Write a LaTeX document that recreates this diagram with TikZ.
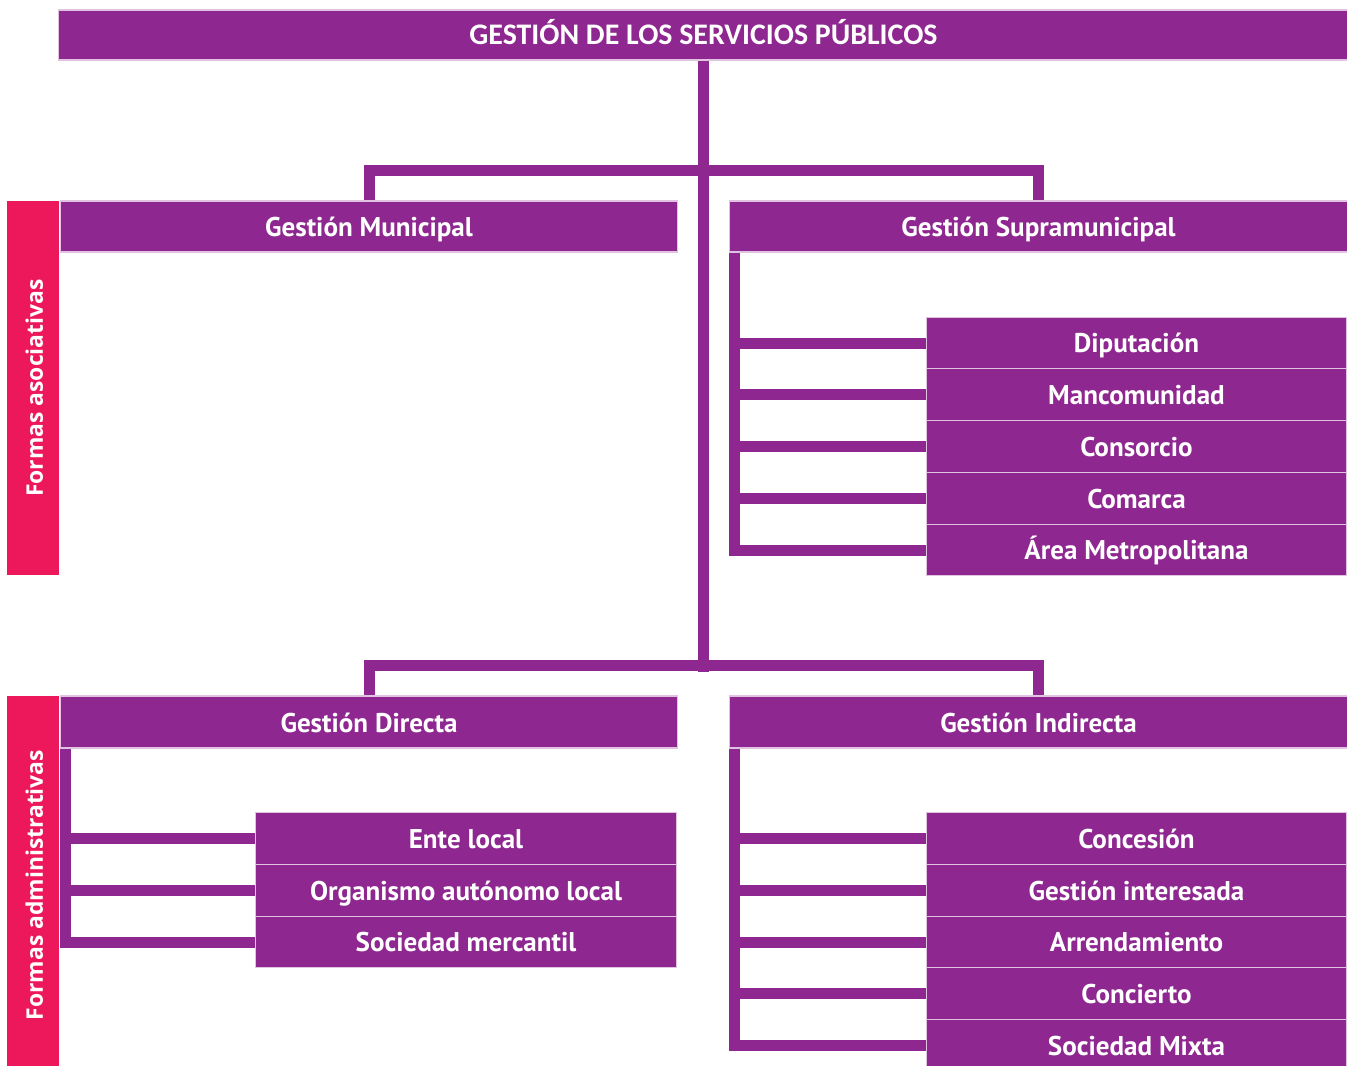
\documentclass[tikz,border=0pt]{standalone}
\usepackage{fontspec}
\setmainfont{PT Sans}
\newfontfamily\titlefont{Carlito}
\newfontfamily\sidefont{Open Sans}
\definecolor{purp}{RGB}{142,39,143}
\definecolor{pinkbar}{RGB}{237,23,91}
\tikzset{
	box/.style={fill=purp, draw=white!72!purp, line width=0.6pt, text=white, inner sep=0pt,
		font=\bfseries\fontsize{15.4}{17}\selectfont, text height=11.2pt, text depth=0pt, minimum height=1.02cm},
	head/.style={box, minimum width=12.36cm, text height=11.8pt},
	item/.style={box, minimum width=8.42cm, minimum height=1.035cm},
	side/.style={fill=pinkbar, text=white, inner sep=0pt, rotate=90, minimum height=1.04cm,
		font=\sidefont\bfseries\fontsize{13}{15}\selectfont, text height=11.2pt, text depth=0pt},
	conn/.style={draw=purp, line width=0.22cm},
}
\begin{document}
\begin{tikzpicture}[x=0.02cm, y=-0.02cm]
	\useasboundingbox (0,0) rectangle (1347,1066);
	\clip (0,0) rectangle (1347,1066);

	\node[box, minimum width=25.8cm, minimum height=1cm, text height=10.4pt,
		font=\titlefont\bfseries\fontsize{17}{19}\selectfont] (top) at (703.5,35) {GESTIÓN DE LOS SERVICIOS PÚBLICOS};

	\node[head] (muni) at (369,226.5) {Gestión Municipal};
	\node[head] (supra) at (1038.5,226.5) {Gestión Supramunicipal};
	\node[head, minimum height=1.04cm] (dir) at (369,722) {Gestión Directa};
	\node[head, minimum height=1.04cm] (indir) at (1038.5,722) {Gestión Indirecta};

	\node[side, minimum width=7.48cm] (asoc) at (33,388) {Formas asociativas};
	\node[side, minimum width=7.56cm] (admin) at (33,885) {Formas administrativas};

	\node[item] (dipu) at (1136.5,343) {Diputación};
	\node[item] (manco) at (1136.5,394.75) {Mancomunidad};
	\node[item] (conso) at (1136.5,446.5) {Consorcio};
	\node[item] (comar) at (1136.5,498.25) {Comarca};
	\node[item] (area) at (1136.5,550) {Área Metropolitana};

	\node[item, minimum width=8.44cm] (ente) at (466,838.5) {Ente local};
	\node[item, minimum width=8.44cm] (organ) at (466,890.25) {Organismo autónomo local};
	\node[item, minimum width=8.44cm] (socmerc) at (466,942) {Sociedad mercantil};

	\node[item] (conce) at (1136.5,838.5) {Concesión};
	\node[item] (gesint) at (1136.5,890.25) {Gestión interesada};
	\node[item] (arren) at (1136.5,942) {Arrendamiento};
	\node[item] (conci) at (1136.5,993.75) {Concierto};
	\node[item] (socmix) at (1136.5,1045.5) {Sociedad Mixta};

	\coordinate (lowhub) at (703.5,672);
	\draw[conn] (top.south) -- (lowhub);
	\draw[conn] (muni.north) -- ++(0,-29.5) -| (supra.north);
	\draw[conn] (dir.north) -- ++(0,-29.5) -| (indir.north);

	\draw[conn] ([xshift=0.11cm]supra.south west) |- (area.west);
	\foreach \n in {dipu,manco,conso,comar}
		\draw[conn] (\n.west) -- (\n.west -| supra.west);

	\draw[conn] ([xshift=0.11cm]dir.south west) |- (socmerc.west);
	\foreach \n in {ente,organ}
		\draw[conn] (\n.west) -- (\n.west -| dir.west);

	\draw[conn] ([xshift=0.11cm]indir.south west) |- (socmix.west);
	\foreach \n in {conce,gesint,arren,conci}
		\draw[conn] (\n.west) -- (\n.west -| indir.west);
\end{tikzpicture}
\end{document}
